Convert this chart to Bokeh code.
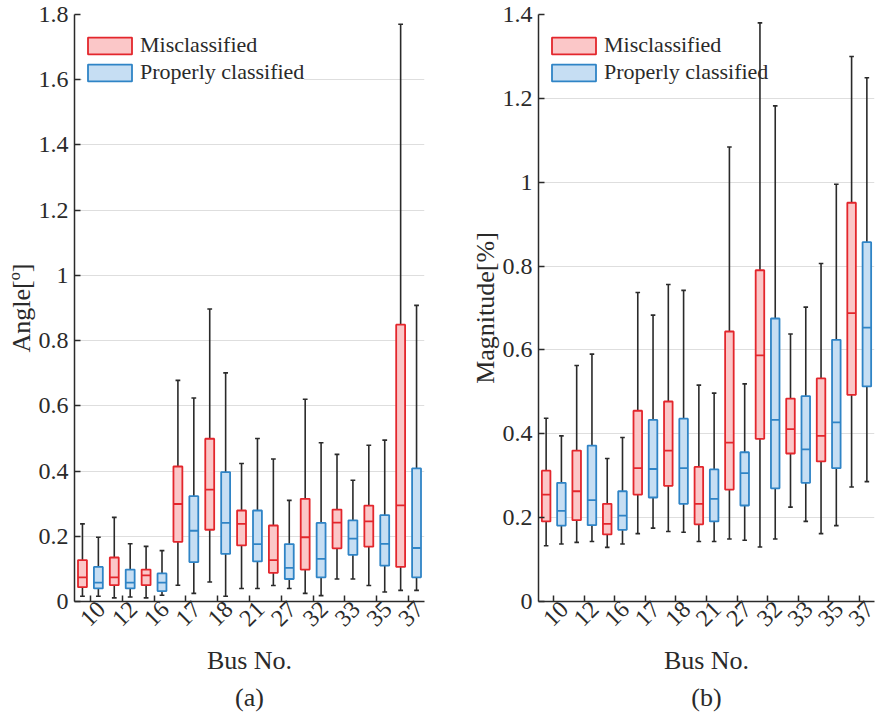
from bokeh.plotting import figure
from bokeh.models import (Range1d, FixedTicker, CustomJSTickFormatter, Legend, LegendItem, Title,
                          LinearAxis)
from bokeh.layouts import row
from bokeh.embed import file_html
from bokeh.resources import INLINE

buses = ["10", "12", "16", "17", "18", "21", "27", "32", "33", "35", "37"]

# Angle [deg] - misclassified (red)
ang_mis_lo  = [0.016, 0.011, 0.011, 0.050, 0.060, 0.040, 0.049, 0.025, 0.069, 0.049, 0.034]
ang_mis_q1  = [0.044, 0.050, 0.050, 0.183, 0.220, 0.172, 0.088, 0.098, 0.163, 0.168, 0.106]
ang_mis_med = [0.074, 0.074, 0.080, 0.299, 0.343, 0.238, 0.127, 0.197, 0.242, 0.246, 0.295]
ang_mis_q3  = [0.127, 0.135, 0.098, 0.414, 0.499, 0.279, 0.233, 0.315, 0.282, 0.294, 0.849]
ang_mis_hi  = [0.238, 0.258, 0.169, 0.678, 0.897, 0.423, 0.437, 0.620, 0.451, 0.479, 1.770]
# Angle - properly classified (blue)
ang_ok_lo  = [0.016, 0.014, 0.019, 0.025, 0.016, 0.040, 0.040, 0.018, 0.069, 0.029, 0.034]
ang_ok_q1  = [0.040, 0.040, 0.032, 0.121, 0.146, 0.123, 0.069, 0.074, 0.143, 0.110, 0.074]
ang_ok_med = [0.058, 0.058, 0.058, 0.217, 0.241, 0.176, 0.103, 0.131, 0.193, 0.177, 0.164]
ang_ok_q3  = [0.106, 0.098, 0.086, 0.323, 0.397, 0.279, 0.176, 0.241, 0.249, 0.265, 0.408]
ang_ok_hi  = [0.197, 0.177, 0.156, 0.624, 0.701, 0.500, 0.310, 0.487, 0.372, 0.495, 0.908]

# Magnitude [%] - misclassified (red)
mag_mis_lo  = [0.133, 0.141, 0.129, 0.162, 0.167, 0.143, 0.149, 0.130, 0.225, 0.162, 0.273]
mag_mis_q1  = [0.191, 0.194, 0.160, 0.255, 0.276, 0.184, 0.267, 0.388, 0.353, 0.334, 0.493]
mag_mis_med = [0.255, 0.263, 0.185, 0.318, 0.360, 0.233, 0.379, 0.587, 0.411, 0.395, 0.688]
mag_mis_q3  = [0.312, 0.360, 0.233, 0.455, 0.477, 0.321, 0.644, 0.790, 0.484, 0.532, 0.951]
mag_mis_hi  = [0.437, 0.563, 0.341, 0.737, 0.756, 0.516, 1.084, 1.380, 0.638, 0.806, 1.300]
# Magnitude - properly classified (blue)
mag_ok_lo  = [0.137, 0.143, 0.137, 0.175, 0.165, 0.143, 0.146, 0.149, 0.191, 0.181, 0.286]
mag_ok_q1  = [0.181, 0.182, 0.171, 0.248, 0.233, 0.191, 0.229, 0.270, 0.283, 0.318, 0.513]
mag_ok_med = [0.216, 0.242, 0.205, 0.316, 0.318, 0.245, 0.306, 0.433, 0.363, 0.427, 0.653]
mag_ok_q3  = [0.283, 0.372, 0.263, 0.433, 0.436, 0.315, 0.356, 0.675, 0.490, 0.624, 0.857]
mag_ok_hi  = [0.395, 0.590, 0.391, 0.683, 0.742, 0.497, 0.519, 1.182, 0.702, 0.995, 1.249]

ang_ticks = [0, 0.2, 0.4, 0.6, 0.8, 1.0, 1.2, 1.4, 1.6, 1.8]
mag_ticks = [0, 0.2, 0.4, 0.6, 0.8, 1.0, 1.2, 1.4]

FONT = "Liberation Serif"
RED_LINE, RED_FILL = "#e3262c", "#fbc7c8"
BLUE_LINE, BLUE_FILL = "#2f84c6", "#c6def3"
DARK = "#2a2a2a"
BOX_W = 0.56
CAP_W = 0.3
LABEL_SHIFT = 0.7


def draw_group(p, xs, lo, q1, med, q3, hi, line, fill):
    p.segment(x0=xs, y0=q3, x1=xs, y1=hi, line_color=DARK, line_width=1.6)
    p.segment(x0=xs, y0=q1, x1=xs, y1=lo, line_color=DARK, line_width=1.6)
    p.segment(x0=[x - CAP_W / 2 for x in xs], y0=hi, x1=[x + CAP_W / 2 for x in xs], y1=hi,
              line_color=DARK, line_width=1.6)
    p.segment(x0=[x - CAP_W / 2 for x in xs], y0=lo, x1=[x + CAP_W / 2 for x in xs], y1=lo,
              line_color=DARK, line_width=1.6)
    r = p.vbar(x=xs, bottom=q1, top=q3, width=BOX_W, fill_color=fill, line_color=line, line_width=1.8)
    p.segment(x0=[x - BOX_W / 2 for x in xs], y0=med, x1=[x + BOX_W / 2 for x in xs], y1=med,
              line_color=line, line_width=1.8)
    return r


def style_axis(ax):
    ax.axis_line_color = DARK
    ax.axis_line_width = 1.5
    ax.major_tick_line_color = DARK
    ax.major_tick_line_width = 1.5
    ax.major_tick_in = 6
    ax.major_tick_out = 0
    ax.minor_tick_line_color = None
    ax.major_label_text_font = FONT
    ax.major_label_text_color = DARK
    ax.axis_label_text_font = FONT
    ax.axis_label_text_font_style = "normal"
    ax.axis_label_text_color = DARK
    ax.axis_label_text_font_size = "26px"


def make_panel(mis, ok, ymax, yticks, ylabel, sub, fw, bl, br, legend_alpha):
    p = figure(frame_width=fw, frame_height=587, output_backend="svg", toolbar_location=None,
               x_range=Range1d(0.5, 22.5), y_range=Range1d(0, ymax),
               min_border_left=bl, min_border_right=br, min_border_top=14, min_border_bottom=100,
               outline_line_color=None, background_fill_color="white")
    n = len(buses)
    xs_mis = [2 * i + 1 for i in range(n)]
    xs_ok = [2 * i + 2 for i in range(n)]
    r1 = draw_group(p, xs_mis, *mis, RED_LINE, RED_FILL)
    r2 = draw_group(p, xs_ok, *ok, BLUE_LINE, BLUE_FILL)

    p.xgrid.visible = False
    p.ygrid.grid_line_color = "#dedede"
    p.ygrid.grid_line_width = 1

    centers = [2 * i + 1.5 for i in range(n)]
    # inner x axis: line + tick marks only (labels not painted)
    xa = p.xaxis[0]
    style_axis(xa)
    xa.ticker = FixedTicker(ticks=centers)
    xa.major_label_text_font_size = "2px"
    xa.major_label_text_color = None
    xa.major_label_standoff = 0
    # outer x axis: rotated bus labels + axis title
    shifted = [c + LABEL_SHIFT for c in centers]
    xb = LinearAxis(ticker=FixedTicker(ticks=shifted),
                    major_label_overrides={c: b for c, b in zip(shifted, buses)})
    style_axis(xb)
    xb.axis_line_color = None
    xb.major_tick_line_color = None
    xb.major_label_orientation = 0.785398
    xb.major_label_text_font_size = "24px"
    xb.major_label_standoff = 4
    xb.axis_label = "Bus No."
    xb.axis_label_standoff = 10
    p.add_layout(xb, "below")

    ya = p.yaxis[0]
    style_axis(ya)
    ya.ticker = FixedTicker(ticks=yticks)
    ya.formatter = CustomJSTickFormatter(code="return tick.toFixed(1).replace(/\\.0$/, '');")
    ya.major_label_text_font_size = "24px"
    ya.major_label_standoff = 6
    ya.axis_label_standoff = 0
    ya.axis_label = ylabel

    t = Title(text=sub, align="center", text_font=FONT, text_font_size="26px",
              text_font_style="normal", text_color=DARK, standoff=4)
    p.add_layout(t, "below")

    legend = Legend(items=[LegendItem(label="Misclassified", renderers=[r1]),
                           LegendItem(label="Properly classified", renderers=[r2])],
                    location=(8, 516), glyph_width=55, glyph_height=21, label_height=21,
                    label_standoff=3, spacing=1, padding=0, margin=0,
                    label_text_font=FONT, label_text_font_size="22px", label_text_color=DARK,
                    border_line_color=None, background_fill_color="white",
                    background_fill_alpha=legend_alpha)
    p.add_layout(legend)
    return p


p1 = make_panel((ang_mis_lo, ang_mis_q1, ang_mis_med, ang_mis_q3, ang_mis_hi),
                (ang_ok_lo, ang_ok_q1, ang_ok_med, ang_ok_q3, ang_ok_hi),
                1.8, ang_ticks, "Angle[º]", "(a)", 350, 74, 38, 1.0)
p2 = make_panel((mag_mis_lo, mag_mis_q1, mag_mis_med, mag_mis_q3, mag_mis_hi),
                (mag_ok_lo, mag_ok_q1, mag_ok_med, mag_ok_q3, mag_ok_hi),
                1.4, mag_ticks, "Magnitude[%]", "(b)", 336, 76, 5, 0.0)

layout = row(p1, p2)
open("out.html", "w").write(file_html(layout, INLINE))
